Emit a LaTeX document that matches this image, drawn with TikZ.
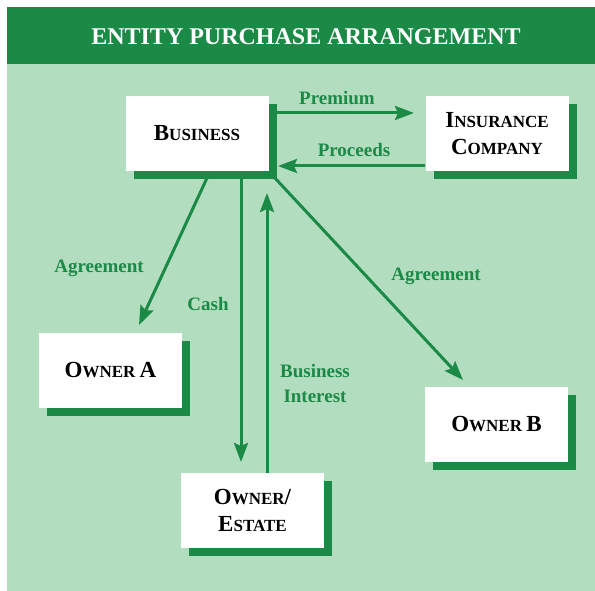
\documentclass[tikz,border=0pt]{standalone}
\usepackage{fontspec}
\setmainfont{Liberation Serif}
\usetikzlibrary{arrows.meta,shadows}
\definecolor{dkgreen}{RGB}{26,138,70}
\definecolor{ltgreen}{RGB}{179,221,191}
\newcommand{\capbig}[1]{{\fontsize{23}{27}\selectfont #1}}
\newcommand{\capsmall}[1]{{\fontsize{17}{27}\selectfont #1}}
\tikzset{
  party/.style={draw=none, fill=white, minimum width=143pt, minimum height=75pt,
    inner sep=0pt, align=center, font=\fontsize{17}{27}\selectfont\bfseries,
    drop shadow={shadow xshift=8pt, shadow yshift=-8pt, fill=dkgreen, opacity=1}},
  flow/.style={draw=dkgreen, line width=3pt,
    -{Stealth[length=19pt,width=14pt,inset=3pt]}},
  flowlabel/.style={text=dkgreen, font=\fontsize{19}{25}\selectfont\bfseries,
    inner sep=0pt, align=center}
}
\begin{document}
\begin{tikzpicture}[x=1pt,y=-1pt]
  \useasboundingbox (0,0) rectangle (595,591);
  % background panels
  \fill[white] (0,0) rectangle (595,591);
  \fill[ltgreen] (7,64) rectangle (595,591);
  \fill[dkgreen] (7,7) rectangle (595,64);
  \node[text=white, font=\fontsize{24}{24}\selectfont\bfseries, inner sep=0pt]
    (title) at (306,37) {ENTITY PURCHASE ARRANGEMENT};

  % parties
  \node[party] (biz) at (197,133.5) {\capbig{B}\capsmall{USINESS}};
  \node[party] (ins) at (497,134) {\capbig{I}\capsmall{NSURANCE}\\\capbig{C}\capsmall{OMPANY}};
  \node[party] (ownA) at (110.5,370.5) {\capbig{O}\capsmall{WNER} \capbig{A}};
  \node[party] (est) at (252.5,510.5) {\capbig{O}\capsmall{WNER}\capbig{/}\\\capbig{E}\capsmall{STATE}};
  \node[party] (ownB) at (496.5,424.5) {\capbig{O}\capsmall{WNER} \capbig{B}};

  % connector end points on the business shadow
  \coordinate (bizPrem) at (272.5,113);
  \coordinate (bizProc) at (278,166);
  \coordinate (bizAgA) at (207,178);
  \coordinate (bizCash) at (241,178);
  \coordinate (bizInt) at (267,193);
  \coordinate (bizAgB) at (274,177);
  \coordinate (insPrem) at (414,113);
  \coordinate (ownATop) at (139,325);
  \coordinate (estTop) at (241,462);
  \coordinate (ownBTop) at (463,380);

  % flows
  \draw[flow] (bizPrem) -- (insPrem);
  \draw[flow] (ins.west |- bizProc) -- (bizProc);
  \draw[flow] (bizAgA) -- (ownATop);
  \draw[flow] (bizCash) -- (estTop);
  \draw[flow] (est.north -| bizInt) -- (bizInt);
  \draw[flow] (bizAgB) -- (ownBTop);

  % flow labels
  \node[flowlabel] (lPrem) at (337,98) {Premium};
  \node[flowlabel] (lProc) at (354,150) {Proceeds};
  \node[flowlabel] (lAgA) at (99,268) {Agreement};
  \node[flowlabel] (lCash) at (208,304) {Cash};
  \node[flowlabel] (lInt) at (315,384) {Business\\Interest};
  \node[flowlabel] (lAgB) at (436,276) {Agreement};
\end{tikzpicture}
\end{document}
